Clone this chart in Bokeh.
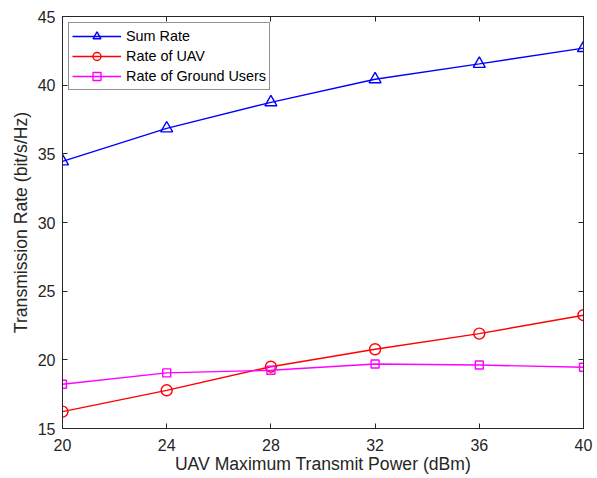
from bokeh.plotting import figure
from bokeh.models import LinearAxis, FixedTicker, Range1d
from bokeh.embed import file_html
from bokeh.resources import INLINE

# UAV maximum transmit power (dBm)
power_dbm = [20, 24, 28, 32, 36, 40]

# Transmission rates (bit/s/Hz)
sum_rate = [34.45, 36.85, 38.75, 40.43, 41.55, 42.70]
uav_rate = [16.23, 17.78, 19.50, 20.77, 21.91, 23.25]
ground_rate = [18.22, 19.05, 19.24, 19.70, 19.62, 19.46]

x_ticks = [20, 24, 28, 32, 36, 40]
y_ticks = [15, 20, 25, 30, 35, 40, 45]

FONT = "Liberation Sans"
AXIS_COLOR = "#262626"

p = figure(width=597, height=478, output_backend="svg", toolbar_location=None,
           x_range=Range1d(20, 40), y_range=Range1d(15, 45),
           min_border_left=62, min_border_right=14, min_border_top=16, min_border_bottom=50)
p.grid.visible = False
p.outline_line_color = AXIS_COLOR
p.outline_line_width = 1
p.background_fill_color = "white"
p.border_fill_color = "white"

series = [
    (sum_rate, "blue", "triangle", 12, "Sum Rate"),
    (uav_rate, "red", "circle", 11, "Rate of UAV"),
    (ground_rate, "magenta", "square", 8, "Rate of Ground Users"),
]
for ys, color, marker, size, label in series:
    p.line(power_dbm, ys, line_color=color, line_width=1.4, legend_label=label)
    p.scatter(power_dbm, ys, marker=marker, size=size, line_color=color,
              fill_alpha=0, line_width=1.4, legend_label=label)

def style_axis(ax, ticks, show_labels=True):
    ax.ticker = FixedTicker(ticks=ticks)
    ax.axis_line_color = AXIS_COLOR
    ax.major_tick_line_color = AXIS_COLOR
    ax.major_tick_in = 5
    ax.major_tick_out = 0
    ax.minor_tick_line_color = None
    ax.major_label_text_font = FONT
    ax.major_label_text_font_size = "16px"
    ax.major_label_text_color = AXIS_COLOR
    ax.axis_label_text_font = FONT
    ax.axis_label_text_font_size = "17.6px"
    ax.axis_label_text_font_style = "normal"
    ax.axis_label_text_color = AXIS_COLOR
    if not show_labels:
        ax.major_label_text_font_size = "0px"
        ax.major_label_text_alpha = 0

style_axis(p.xaxis[0], x_ticks)
style_axis(p.yaxis[0], y_ticks)
p.xaxis[0].axis_label = "UAV Maximum Transmit Power (dBm)"
p.yaxis[0].axis_label = "Transmission Rate (bit/s/Hz)"
p.xaxis[0].major_label_standoff = 10
p.xaxis[0].axis_label_standoff = 0
p.yaxis[0].major_label_standoff = 7
p.yaxis[0].axis_label_standoff = 4

top_ax = LinearAxis()
right_ax = LinearAxis()
style_axis(top_ax, x_ticks, show_labels=False)
style_axis(right_ax, y_ticks, show_labels=False)
p.add_layout(top_ax, "above")
p.add_layout(right_ax, "right")

lg = p.legend[0]
lg.location = "top_left"
lg.margin = 6
lg.padding = 3
lg.spacing = 0
lg.label_height = 20
lg.glyph_height = 20
lg.glyph_width = 49
lg.label_standoff = 5
lg.label_text_font = FONT
lg.label_text_font_size = "14.4px"
lg.label_text_color = "black"
lg.border_line_color = AXIS_COLOR
lg.border_line_width = 1
lg.background_fill_alpha = 1

open("out.html", "w").write(file_html(p, INLINE))
